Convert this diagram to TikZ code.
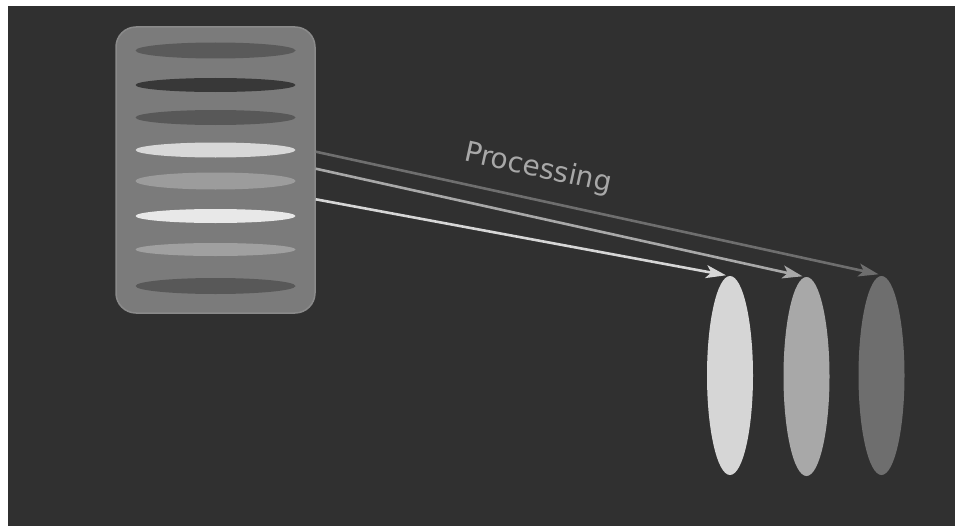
\documentclass[tikz,border=0pt]{standalone}
\usepackage{fontspec}
\setmainfont{DejaVu Sans}
\usetikzlibrary{shapes.geometric,arrows.meta}
\definecolor{bg}{HTML}{303030}
\definecolor{boxfill}{HTML}{7B7B7B}
\definecolor{boxline}{HTML}{8A8A8A}
\definecolor{gA}{HTML}{D6D6D6}
\definecolor{gB}{HTML}{A8A8A8}
\definecolor{gC}{HTML}{6E6E6E}
\tikzset{
  slot/.style={ellipse, inner sep=0pt, minimum width=160pt},
  tall/.style={ellipse, inner sep=0pt, minimum width=46pt, minimum height=199pt},
  flow/.style={line width=2.6pt, -{Stealth[length=20pt,width=13pt,inset=5pt]}},
}
\begin{document}
\begin{tikzpicture}[x=1pt,y=-1pt]
\useasboundingbox (0,0) rectangle (961,527);
\fill[white] (0,0) rectangle (961,527);
\fill[bg] (8,6) rectangle (955,526);
\node[draw=boxline, line width=1.5pt, fill=boxfill, rounded corners=20pt, minimum width=199pt, minimum height=286pt, inner sep=0pt] (store) at (215.5,170) {};
\node[slot, fill={rgb,255:red,90;green,90;blue,90}, minimum height=16pt] (s1) at (215.5,50.5) {};
\node[slot, fill={rgb,255:red,56;green,56;blue,56}, minimum height=14pt] (s2) at (215.5,85) {};
\node[slot, fill={rgb,255:red,88;green,88;blue,88}, minimum height=15pt] (s3) at (215.5,117.5) {};
\node[slot, fill={rgb,255:red,216;green,216;blue,216}, minimum height=15pt] (s4) at (215.5,150) {};
\node[slot, fill={rgb,255:red,156;green,156;blue,156}, minimum height=17pt] (s5) at (215.5,181) {};
\node[slot, fill={rgb,255:red,232;green,232;blue,232}, minimum height=14pt] (s6) at (215.5,216) {};
\node[slot, fill={rgb,255:red,160;green,160;blue,160}, minimum height=13pt] (s7) at (215.5,249.5) {};
\node[slot, fill={rgb,255:red,88;green,88;blue,88}, minimum height=16pt] (s8) at (215.5,286) {};
\node[tall, fill=gA] (e1) at (730,375.5) {};
\node[tall, fill=gB] (e2) at (806.5,376.5) {};
\node[tall, fill=gC] (e3) at (881.5,375.5) {};
\draw[flow, gC] ([yshift=18.3pt]store.east) -- ([xshift=-3pt,yshift=1.5pt]e3.north);
\draw[flow, gB] ([yshift=1.3pt]store.east) -- ([xshift=-4pt,yshift=0.5pt]e2.north);
\draw[flow, gA] ([yshift=-29.3pt]store.east) -- ([xshift=-4pt,yshift=0.5pt]e1.north);
\node[text=gB, font=\fontsize{28}{30}\selectfont, rotate=-12.3] (lbl) at (538,169) {Processing};
\end{tikzpicture}
\end{document}
